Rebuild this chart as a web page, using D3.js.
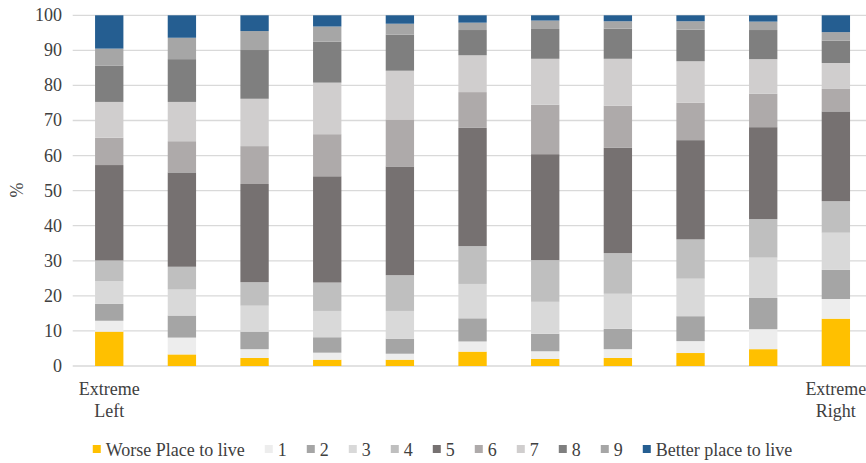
<!DOCTYPE html>
<html><head><meta charset="utf-8">
<script src="https://cdn.jsdelivr.net/npm/d3@7"></script>
</head><body style="margin:0">
<svg id="c" width="866" height="463" style="display:block"></svg>
<script>
const categories = ["0","1","2","3","4","5","6","7","8","9","10"];
const categoryLabels = [["Extreme","Left"],[],[],[],[],[],[],[],[],[],["Extreme","Right"]];
const seriesNames = ["Worse Place to live","1","2","3","4","5","6","7","8","9","Better place to live"];
const seriesColors = ["#FFC000","#EDEDED","#A5A5A5","#D9D9D9","#BFBFBF","#767171","#AEAAAA","#D0CECE","#7F7F7F","#A6A6A6","#255E91"];
const worse  = [9.8, 3.3, 2.3, 1.8, 1.8, 4.1, 2.0, 2.3, 3.7, 4.8, 13.5];
const s1     = [3.1, 4.8, 2.5, 2.0, 1.7, 2.9, 2.2, 2.5, 3.4, 5.7, 5.6];
const s2     = [4.8, 6.3, 5.0, 4.4, 4.3, 6.6, 5.0, 5.8, 7.1, 8.9, 8.3];
const s3     = [6.5, 7.4, 7.4, 7.5, 7.9, 9.8, 9.1, 10.0, 10.7, 11.5, 10.6];
const s4     = [5.9, 6.5, 6.7, 8.1, 10.2, 10.8, 11.9, 11.6, 11.2, 11.0, 9.0];
const s5     = [27.2, 26.9, 28.0, 30.3, 31.0, 33.7, 30.2, 30.0, 28.3, 26.2, 25.6];
const s6     = [7.8, 8.9, 10.8, 12.0, 13.4, 10.2, 14.1, 12.0, 10.7, 9.5, 6.4];
const s7     = [10.2, 11.2, 13.5, 14.7, 13.9, 10.5, 13.1, 13.4, 11.8, 9.9, 7.4];
const s8     = [10.3, 12.2, 13.9, 11.7, 10.3, 7.2, 8.5, 8.6, 9.0, 8.3, 6.4];
const s9     = [4.9, 6.1, 5.4, 4.3, 3.1, 2.1, 2.4, 2.1, 2.4, 2.4, 2.4];
const better = [9.5, 6.4, 4.5, 3.2, 2.4, 2.1, 1.5, 1.7, 1.7, 1.8, 4.8];
const yTicks = [0,10,20,30,40,50,60,70,80,90,100];

const seriesValues = [worse,s1,s2,s3,s4,s5,s6,s7,s8,s9,better];
const rows = categories.map((c,i)=>{const r={cat:c}; seriesNames.forEach((n,k)=>r[n]=seriesValues[k][i]); return r;});
const stack = d3.stack().keys(seriesNames)(rows);

const svg = d3.select("#c");
function styleText(sel){
  return sel.style("font-family","'Times New Roman'").style("font-size","18px").style("fill","#404040");
}
const x = d3.scaleBand().domain(categories).range([72.9, 872.2]).paddingInner(0.61).paddingOuter(0.305);
const y = d3.scaleLinear().domain([0,100]).range([366, 15.3]);

svg.append("g").selectAll("line").data(yTicks).join("line")
  .attr("x1",72.7).attr("x2",866).attr("y1",d=>y(d)).attr("y2",d=>y(d))
  .attr("stroke","#D9D9D9").attr("stroke-width",1.3);

svg.append("g").selectAll("rect.layer").data(stack).join("g")
  .attr("fill",(d,i)=>seriesColors[i])
  .selectAll("rect").data(d=>d).join("rect")
  .attr("x",d=>x(d.data.cat)).attr("width",x.bandwidth())
  .attr("y",d=>y(d[1])).attr("height",d=>y(d[0])-y(d[1]));

// y tick labels placed from the scale
yTicks.forEach(v=>{
  styleText(svg.append("text").attr("x",62).attr("y",y(v)).attr("dy","0.33em").attr("text-anchor","end")).text(v);
});

styleText(svg.append("text").attr("transform","translate(23,190) rotate(-90)").attr("text-anchor","middle")).text("%");

categories.forEach((c,i)=>{
  categoryLabels[i].forEach((t,j)=>{
    styleText(svg.append("text").attr("x",x(c)+x.bandwidth()/2).attr("y",395+j*22)
      .attr("text-anchor","middle")).text(t);
  });
});

const legendX = [];
let cx = 0;
const tmp = [];
seriesNames.forEach((n,i)=>{
  svg.append("rect").attr("class","lgs").attr("y",445).attr("width",8).attr("height",8).attr("fill",seriesColors[i]);
  const t = styleText(svg.append("text").attr("y",456)).text(n);
  tmp.push(t);
  legendX.push(cx);
  cx += 13 + t.node().getComputedTextLength() + 20;
});
const off = 442.5 - (cx-20)/2;
svg.selectAll("rect.lgs").attr("x",(d,i)=>off+legendX[i]);
tmp.forEach((t,i)=>t.attr("x",off+legendX[i]+13));
</script></body></html>
